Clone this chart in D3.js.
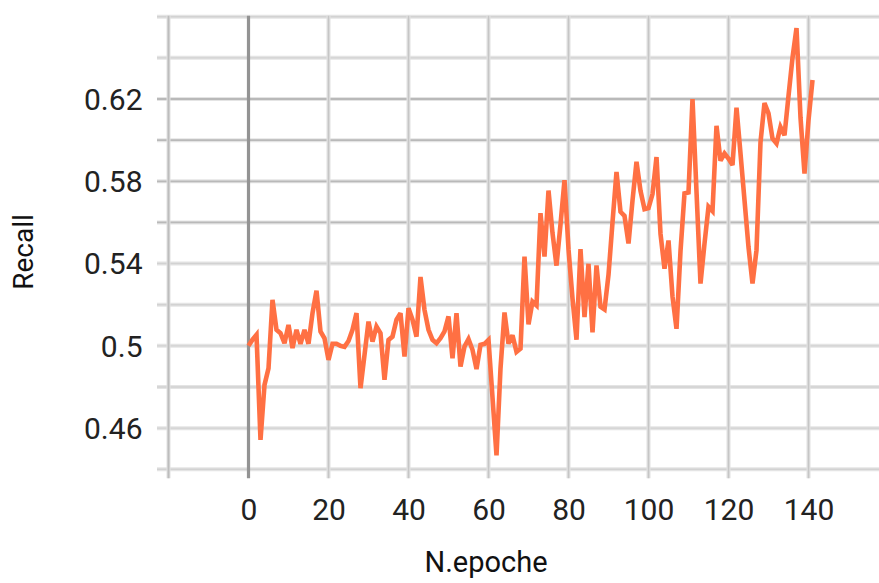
<!DOCTYPE html>
<html>
<head>
<meta charset="utf-8">
<script src="https://cdn.jsdelivr.net/npm/d3@7"></script>
<style>
  html, body { margin: 0; padding: 0; background: #fff; }
  svg { display: block; font-family: Roboto, "Noto Sans", sans-serif; }
</style>
</head>
<body>
<svg id="chart" width="879" height="583"></svg>
<script>
// Smoothed recall per training epoch (index = epoch number)
const recall = [
  0.5000, 0.5030, 0.5054, 0.4543, 0.4810, 0.4891, 0.5224, 0.5078, 0.5062, 0.5013,
  0.5102, 0.4989, 0.5078, 0.5010, 0.5078, 0.5010, 0.5159, 0.5268, 0.5070, 0.5037,
  0.4932, 0.5010, 0.5010, 0.5000, 0.4995, 0.5024, 0.5078, 0.5159, 0.4794, 0.4956,
  0.5118, 0.5021, 0.5094, 0.5062, 0.4835, 0.5029, 0.5045, 0.5127, 0.5159, 0.4948,
  0.5183, 0.5127, 0.5045, 0.5335, 0.5175, 0.5078, 0.5029, 0.5013, 0.5037, 0.5070,
  0.5143, 0.4940, 0.5159, 0.4899, 0.4997, 0.5033, 0.4981, 0.4887, 0.5005, 0.5010,
  0.5029, 0.4750, 0.4468, 0.4890, 0.5162, 0.5011, 0.5052, 0.4971, 0.4987, 0.5434,
  0.5105, 0.5215, 0.5197, 0.5645, 0.5434, 0.5755, 0.5548, 0.5390, 0.5590, 0.5805,
  0.5470, 0.5230, 0.5030, 0.5470, 0.5140, 0.5399, 0.5066, 0.5391, 0.5190, 0.5177,
  0.5345, 0.5600, 0.5845, 0.5652, 0.5632, 0.5498, 0.5706, 0.5895, 0.5754, 0.5665,
  0.5670, 0.5738, 0.5918, 0.5545, 0.5375, 0.5512, 0.5240, 0.5083, 0.5460, 0.5741,
  0.5746, 0.6200, 0.5750, 0.5303, 0.5497, 0.5676, 0.5655, 0.6070, 0.5900, 0.5935,
  0.5910, 0.5879, 0.6158, 0.5935, 0.5708, 0.5480, 0.5303, 0.5465, 0.5990, 0.6180,
  0.6130, 0.6008, 0.5984, 0.6064, 0.6024, 0.6215, 0.6400, 0.6545, 0.6110, 0.5838,
  0.6097, 0.6292
];

// Axis ticks and their labels
const xTicks = [-20, 0, 20, 40, 60, 80, 100, 120, 140];
const xTickLabels = ["", "0", "20", "40", "60", "80", "100", "120", "140"];
const yTicks = [0.44, 0.46, 0.48, 0.50, 0.52, 0.54, 0.56, 0.58, 0.60, 0.62, 0.64, 0.66];
const yLabelTicks = [0.46, 0.50, 0.54, 0.58, 0.62];
const yTickLabels = ["0.46", "0.5", "0.54", "0.58", "0.62"];

const xTitle = "N.epoche";
const yTitle = "Recall";

const svg = d3.select("#chart");
const W = 879, H = 583;

const x = d3.scaleLinear().domain([-20, 157.5]).range([168.5, 878.5]);
const y = d3.scaleLinear().domain([0.44, 0.66]).range([469.3, 16.7]);

const grid = svg.append("g");

// horizontal grid: soft band plus a thin core, the mid rows a bit darker
yTicks.forEach(v => {
  const dark = v > 0.555 && v < 0.625;
  grid.append("line")
    .attr("x1", 157).attr("x2", W)
    .attr("y1", y(v)).attr("y2", y(v))
    .attr("stroke", "#e4e4e4").attr("stroke-width", 4);
  grid.append("line")
    .attr("x1", 157).attr("x2", W)
    .attr("y1", y(v)).attr("y2", y(v))
    .attr("stroke", dark ? "#b9b9b9" : "#d2d2d2").attr("stroke-width", dark ? 1.8 : 1.4);
});

// vertical grid
xTicks.forEach(v => {
  if (v === 0) return;
  const axisLine = v === -20;
  grid.append("line")
    .attr("x1", x(v)).attr("x2", x(v))
    .attr("y1", y(0.66) - 1).attr("y2", y(0.44) + 9)
    .attr("stroke", "#e2e2e2").attr("stroke-width", 4);
  grid.append("line")
    .attr("x1", x(v)).attr("x2", x(v))
    .attr("y1", y(0.66) - 1).attr("y2", y(0.44) + 9)
    .attr("stroke", axisLine ? "#bdbdbd" : "#c6c6c6").attr("stroke-width", axisLine ? 2 : 1.6);
});
// zero line
grid.append("line")
  .attr("x1", x(0)).attr("x2", x(0))
  .attr("y1", y(0.66) - 1).attr("y2", y(0.44) + 9)
  .attr("stroke", "#939393").attr("stroke-width", 3.2);

// y axis labels
const yAxis = d3.axisLeft(y)
  .tickValues(yLabelTicks)
  .tickSize(0)
  .tickPadding(0)
  .tickFormat((d, i) => yTickLabels[i]);
const gy = svg.append("g").attr("transform", "translate(142.5,0)").call(yAxis);
gy.select(".domain").remove();
gy.selectAll("text")
  .attr("x", 0)
  .attr("dy", "0.34em")
  .attr("fill", "#222")
  .style("font-size", "30px")
  .style("font-family", "Roboto, sans-serif");

// x axis labels
const xAxis = d3.axisBottom(x)
  .tickValues(xTicks)
  .tickSize(0)
  .tickPadding(0)
  .tickFormat((d, i) => xTickLabels[i]);
const gx = svg.append("g").attr("transform", "translate(0,520)").call(xAxis);
gx.select(".domain").remove();
gx.selectAll("text")
  .attr("y", 0)
  .attr("dy", 0)
  .attr("fill", "#222")
  .style("font-size", "30px")
  .style("font-family", "Roboto, sans-serif");

// recall curve
const line = d3.line()
  .x((d, i) => x(i))
  .y(d => y(d));

svg.append("path")
  .datum(recall)
  .attr("d", line)
  .attr("fill", "none")
  .attr("stroke", "#ff7043")
  .attr("stroke-width", 4.6)
  .attr("stroke-linejoin", "miter")
  .attr("stroke-miterlimit", 3);

// axis titles
svg.append("text")
  .attr("x", 486).attr("y", 572)
  .attr("text-anchor", "middle")
  .attr("fill", "#111")
  .style("font-size", "29px")
  .text(xTitle);

svg.append("text")
  .attr("transform", "translate(33,252) rotate(-90)")
  .attr("text-anchor", "middle")
  .attr("fill", "#111")
  .style("font-size", "28px")
  .text(yTitle);
</script>
</body>
</html>
